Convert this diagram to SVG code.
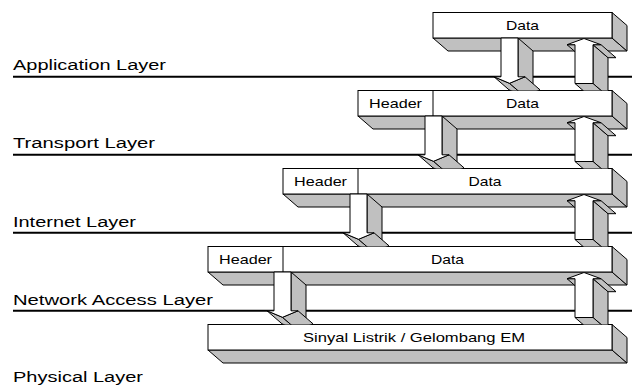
<svg xmlns="http://www.w3.org/2000/svg" width="632" height="385" viewBox="0 0 632 385">
<style>
.lbl{font-family:"Liberation Sans",Arial,sans-serif;font-size:15.5px;fill:#000}
.t{font-family:"Liberation Sans",Arial,sans-serif;font-size:13px;fill:#000;text-anchor:middle}
.ln{stroke:#000;stroke-width:2}
.f{fill:#fff;stroke:#000;stroke-width:1;stroke-linejoin:miter}
.s{fill:#c0c0c0;stroke:#000;stroke-width:1;stroke-linejoin:miter}
.dv{stroke:#000;stroke-width:1}
</style>
<defs>
<clipPath id="c1"><rect x="0" y="0" width="632" height="90.5"/></clipPath>
<clipPath id="c2"><rect x="0" y="0" width="632" height="168.5"/></clipPath>
<clipPath id="c3"><rect x="0" y="0" width="632" height="246.5"/></clipPath>
<clipPath id="c4"><rect x="0" y="0" width="632" height="324.5"/></clipPath>
</defs>
<g id="layer-lines">
<line class="ln" x1="13" y1="76.8" x2="632" y2="76.8"/>
<line class="ln" x1="13" y1="154.8" x2="632" y2="154.8"/>
<line class="ln" x1="13" y1="232.8" x2="632" y2="232.8"/>
<line class="ln" x1="13" y1="310.8" x2="632" y2="310.8"/>
</g>
<g id="layer-labels">
<text class="lbl" x="13" y="70" textLength="153" lengthAdjust="spacingAndGlyphs">Application Layer</text>
<text class="lbl" x="13" y="148" textLength="142" lengthAdjust="spacingAndGlyphs">Transport Layer</text>
<text class="lbl" x="13" y="226.5" textLength="123" lengthAdjust="spacingAndGlyphs">Internet Layer</text>
<text class="lbl" x="13" y="305" textLength="200" lengthAdjust="spacingAndGlyphs">Network Access Layer</text>
<text class="lbl" x="13" y="381.5" textLength="130" lengthAdjust="spacingAndGlyphs">Physical Layer</text>
</g>
<g id="box-application">
<polygon class="s" points="433,38 612,38 627,51 448,51"/>
<polygon class="s" points="612,12.5 627,25.5 627,51 612,38"/>
<rect class="f" x="433" y="12.5" width="179" height="25.5"/>
<text class="t" x="522.5" y="29.5" textLength="33" lengthAdjust="spacingAndGlyphs">Data</text>
</g>
<g id="box-transport">
<polygon class="s" points="358,116 612,116 627,129 373,129"/>
<polygon class="s" points="612,90.5 627,103.5 627,129 612,116"/>
<rect class="f" x="358" y="90.5" width="254" height="25.5"/>
<line class="dv" x1="433" y1="90.5" x2="433" y2="116"/>
<text class="t" x="395.5" y="107.5" textLength="53" lengthAdjust="spacingAndGlyphs">Header</text>
<text class="t" x="522.5" y="107.5" textLength="33" lengthAdjust="spacingAndGlyphs">Data</text>
</g>
<g id="box-internet">
<polygon class="s" points="283,194 612,194 627,207 298,207"/>
<polygon class="s" points="612,168.5 627,181.5 627,207 612,194"/>
<rect class="f" x="283" y="168.5" width="329" height="25.5"/>
<line class="dv" x1="358" y1="168.5" x2="358" y2="194"/>
<text class="t" x="320.5" y="185.5" textLength="53" lengthAdjust="spacingAndGlyphs">Header</text>
<text class="t" x="485" y="185.5" textLength="33" lengthAdjust="spacingAndGlyphs">Data</text>
</g>
<g id="box-network">
<polygon class="s" points="208,272 612,272 627,285 223,285"/>
<polygon class="s" points="612,246.5 627,259.5 627,285 612,272"/>
<rect class="f" x="208" y="246.5" width="404" height="25.5"/>
<line class="dv" x1="283" y1="246.5" x2="283" y2="272"/>
<text class="t" x="245.5" y="263.5" textLength="53" lengthAdjust="spacingAndGlyphs">Header</text>
<text class="t" x="447.5" y="263.5" textLength="33" lengthAdjust="spacingAndGlyphs">Data</text>
</g>
<g id="box-physical">
<polygon class="s" points="208,350 612,350 627,363 223,363"/>
<polygon class="s" points="612,324.5 627,337.5 627,363 612,350"/>
<rect class="f" x="208" y="324.5" width="404" height="25.5"/>
<text class="t" x="414" y="341.5" textLength="222" lengthAdjust="spacingAndGlyphs">Sinyal Listrik / Gelombang EM</text>
</g>
<g id="connectors">
<!-- level 1: Application <-> Transport -->
<g clip-path="url(#c1)">
<polygon class="s" points="518,38 533,51 533,89.8 518,76.8"/>
<polygon class="s" points="494,76.8 509.5,83.3 524.5,96.3 509,89.8"/>
<polygon class="s" points="509.5,83.3 525,76.8 540,89.8 524.5,96.3"/>
<polygon class="f" points="501,38 518,38 518,76.8 525,76.8 509.5,83.3 494,76.8 501,76.8"/>
<polygon class="s" points="593,44.7 608,57.7 608,96.5 593,83.5"/>
<polygon class="s" points="575,83.5 593,83.5 608,96.5 590,96.5"/>
<polygon class="s" points="567,44.7 575,44.7 590,57.7 582,57.7"/>
<polygon class="s" points="593,44.7 601,44.7 616,57.7 608,57.7"/>
<polygon class="f" points="575,83.5 593,83.5 593,44.7 601,44.7 584,38.5 567,44.7 575,44.7"/>
</g>
<!-- level 2: Transport <-> Internet -->
<g clip-path="url(#c2)">
<polygon class="s" points="442,116 457,129 457,167.8 442,154.8"/>
<polygon class="s" points="418,154.8 433.5,161.3 448.5,174.3 433,167.8"/>
<polygon class="s" points="433.5,161.3 449,154.8 464,167.8 448.5,174.3"/>
<polygon class="f" points="425,116 442,116 442,154.8 449,154.8 433.5,161.3 418,154.8 425,154.8"/>
<polygon class="s" points="593,122.7 608,135.7 608,174.5 593,161.5"/>
<polygon class="s" points="575,161.5 593,161.5 608,174.5 590,174.5"/>
<polygon class="s" points="567,122.7 575,122.7 590,135.7 582,135.7"/>
<polygon class="s" points="593,122.7 601,122.7 616,135.7 608,135.7"/>
<polygon class="f" points="575,161.5 593,161.5 593,122.7 601,122.7 584,116.5 567,122.7 575,122.7"/>
</g>
<!-- level 3: Internet <-> Network Access -->
<g clip-path="url(#c3)">
<polygon class="s" points="367,194 382,207 382,245.8 367,232.8"/>
<polygon class="s" points="343,232.8 358.5,239.3 373.5,252.3 358,245.8"/>
<polygon class="s" points="358.5,239.3 374,232.8 389,245.8 373.5,252.3"/>
<polygon class="f" points="350,194 367,194 367,232.8 374,232.8 358.5,239.3 343,232.8 350,232.8"/>
<polygon class="s" points="593,200.7 608,213.7 608,252.5 593,239.5"/>
<polygon class="s" points="575,239.5 593,239.5 608,252.5 590,252.5"/>
<polygon class="s" points="567,200.7 575,200.7 590,213.7 582,213.7"/>
<polygon class="s" points="593,200.7 601,200.7 616,213.7 608,213.7"/>
<polygon class="f" points="575,239.5 593,239.5 593,200.7 601,200.7 584,194.5 567,200.7 575,200.7"/>
</g>
<!-- level 4: Network Access <-> Physical -->
<g clip-path="url(#c4)">
<polygon class="s" points="291,272 306,285 306,323.8 291,310.8"/>
<polygon class="s" points="267,310.8 282.5,317.3 297.5,330.3 282,323.8"/>
<polygon class="s" points="282.5,317.3 298,310.8 313,323.8 297.5,330.3"/>
<polygon class="f" points="274,272 291,272 291,310.8 298,310.8 282.5,317.3 267,310.8 274,310.8"/>
<polygon class="s" points="593,278.7 608,291.7 608,330.5 593,317.5"/>
<polygon class="s" points="575,317.5 593,317.5 608,330.5 590,330.5"/>
<polygon class="s" points="567,278.7 575,278.7 590,291.7 582,291.7"/>
<polygon class="s" points="593,278.7 601,278.7 616,291.7 608,291.7"/>
<polygon class="f" points="575,317.5 593,317.5 593,278.7 601,278.7 584,272.5 567,278.7 575,278.7"/>
</g>
</g>
</svg>
